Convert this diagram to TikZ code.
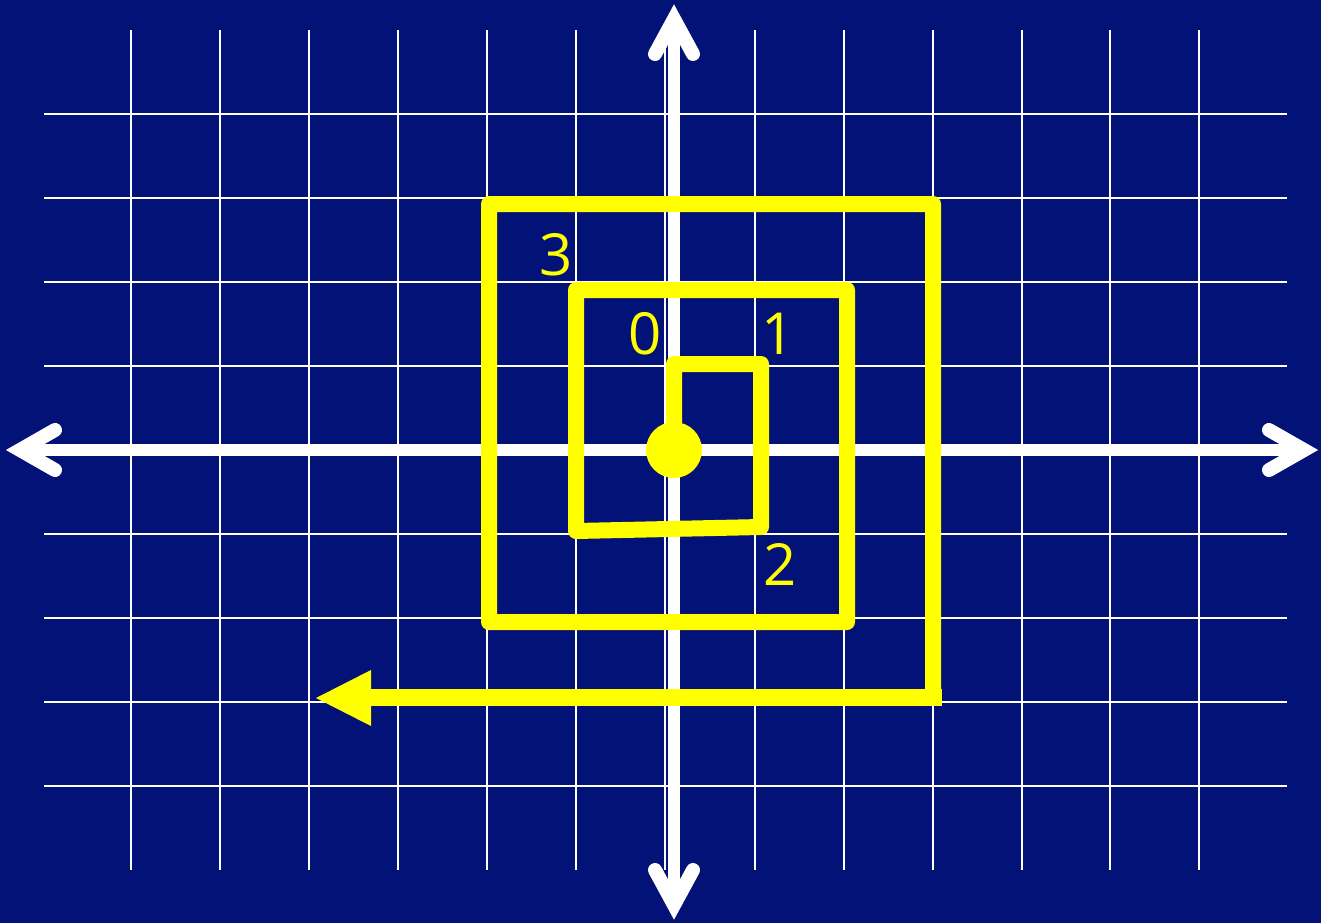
\documentclass[tikz,border=0pt]{standalone}
\usepackage{fontspec}
\setmainfont{Open Sans}
\definecolor{bgblue}{RGB}{3,18,118}
\definecolor{spiral}{RGB}{255,255,0}
\begin{document}
\begin{tikzpicture}[x=1pt,y=-1pt,
  gridline/.style={white,line width=2pt},
  axisline/.style={white,line width=12pt},
  axishead/.style={white,line width=14pt,line cap=round,line join=miter},
  spiralline/.style={spiral,line width=16pt,line join=round,line cap=butt},
  lbl/.style={text=spiral,font=\fontsize{58}{62}\selectfont,inner sep=0pt}]
\fill[bgblue] (0,0) rectangle (1321,923);
\useasboundingbox (0,0) rectangle (1321,923);
% grid
\foreach \x in {131,220,309,398,487,576,665,755,844,933,1022,1110,1199}
  \draw[gridline] (\x,30) -- (\x,870);
\foreach \y in {114,198,282,366,450,534,618,702,786}
  \draw[gridline] (44,\y) -- (1287,\y);
% axes
\coordinate (xl) at (20,450);
\coordinate (xr) at (1304,450);
\coordinate (yt) at (674,19);
\coordinate (yb) at (674,905);
\draw[axisline] (xl) -- (xr);
\draw[axisline] (yt) -- (yb);
\draw[axishead] (55,430) -- (xl) -- (55,470);
\draw[axishead] (1269,430) -- (xr) -- (1269,470);
\draw[axishead] (655,54) -- (yt) -- (693,54);
\draw[axishead] (655,870) -- (yb) -- (693,870);
% spiral
\coordinate (c0) at (674,450);
\coordinate (p1) at (674,364);
\coordinate (p2) at (761,364);
\coordinate (p3) at (761,527);
\coordinate (p4) at (576,531);
\coordinate (p5) at (576,290);
\coordinate (p6) at (847,290);
\coordinate (p7) at (847,622);
\coordinate (p8) at (489,622);
\coordinate (p9) at (489,204);
\coordinate (p10) at (933,204);
\coordinate (p11) at (933,697);
\coordinate (ab) at (371,697);
\coordinate (tip) at (316,698);
\draw[spiralline] (c0) -- (p1) -- (p2) -- (p3) -- (p4) -- (p5) -- (p6) -- (p7) -- (p8) -- (p9) -- (p10) -- (p11);
\draw[spiral,line width=17pt,line cap=rect] (p11) -- (ab);
\fill[spiral] (tip) -- (371,670) -- (371,726) -- cycle;
\fill[spiral] (c0) circle[radius=28];
% labels
\node[lbl] (l0) at (645,334) {0};
\node[lbl] (l1) at (778,334) {1};
\node[lbl] (l2) at (780,564) {2};
\node[lbl] (l3) at (556,255) {3};
\end{tikzpicture}
\end{document}
